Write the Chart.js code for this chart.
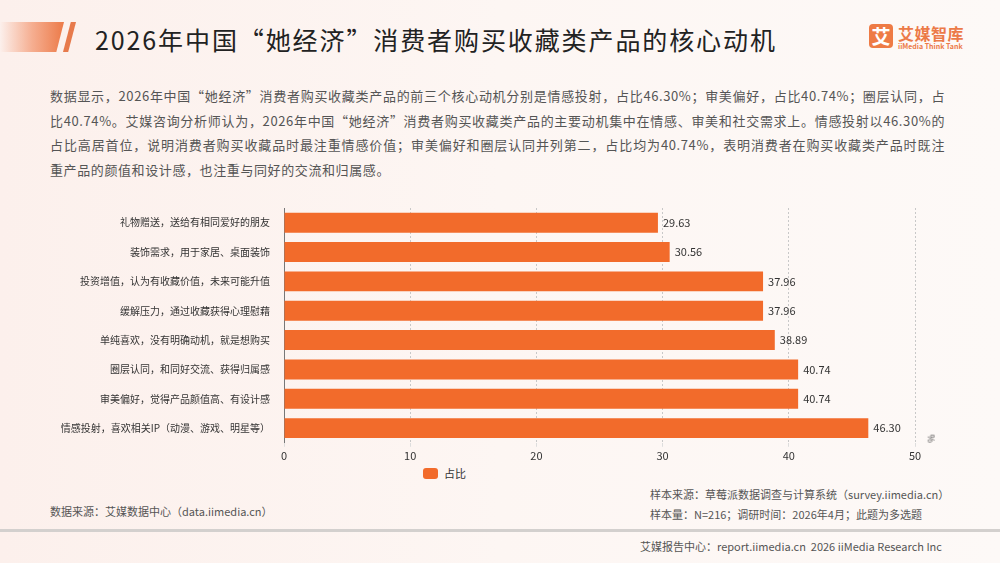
<!DOCTYPE html>
<html>
<head>
<meta charset="utf-8">
<script src="https://cdn.jsdelivr.net/npm/chart.js@4/dist/chart.umd.min.js"></script>
<style>
  html, body { margin: 0; padding: 0; }
  body {
    width: 1000px; height: 563px; position: relative; overflow: hidden;
    background: linear-gradient(90deg, #fcf0ec 0%, #fdf6f3 50%, #fdf9f7 100%);
    font-family: "Noto Sans CJK SC", "Noto Sans", sans-serif;
  }
  .decor1 {
    position: absolute; left: 0; top: 22px; width: 64px; height: 30px;
    background: linear-gradient(90deg, rgba(240,120,70,0) 0%, rgba(240,120,70,0.55) 50%, #ec7a48 100%);
    clip-path: polygon(0 0, 100% 0, 88% 100%, 0 100%);
  }
  .decor2 {
    position: absolute; left: 63px; top: 22px; width: 13px; height: 30px;
    background: #e77a4c;
    clip-path: polygon(60% 0, 100% 0, 40% 100%, 0 100%);
  }
  .title {
    position: absolute; left: 95px; top: 21px; font-size: 25px; color: #222;
    letter-spacing: 1.9px; white-space: nowrap;
  }
  .logo-box {
    position: absolute; left: 869px; top: 24px; width: 24px; height: 24px;
    background: #ee7b45; border-radius: 4px; color: #fff; font-size: 19px;
    font-weight: bold; line-height: 24px; text-align: center;
  }
  .logo-cn {
    position: absolute; left: 898px; top: 21px; font-size: 16px; font-weight: bold;
    color: #ec7a48; letter-spacing: 0.5px;
  }
  .logo-en {
    position: absolute; left: 898px; top: 41px; font-size: 7px; font-weight: bold;
    color: #ec7a48; white-space: nowrap;
  }
  .para { position: absolute; left: 50px; top: 84px; width: 895px; color: #555; font-size: 13px; }
  .para div { height: 24.7px; line-height: 24.7px; letter-spacing: 0.6px; text-align: justify; text-align-last: justify; white-space: nowrap; }
  .para div.last { text-align-last: left; }
  #chartWrap { position: absolute; left: 40px; top: 196px; width: 910px; height: 268px; }
  .legend { position: absolute; left: 423px; top: 465px; font-size: 11px; color: #333; }
  .legend span.box { display: inline-block; width: 15px; height: 11px; background: #f26b2b; border-radius: 3px; vertical-align: -1px; margin-right: 6px; }
  .pct { position: absolute; left: 927px; top: 432px; font-size: 9px; color: #444; transform: rotate(-90deg); }
  .src { position: absolute; font-size: 11px; color: #555; white-space: nowrap; }
  .rule { position: absolute; left: 0; top: 529px; width: 1000px; height: 3px; background: #d3d0ce; }
</style>
</head>
<body>
<div class="decor1"></div>
<div class="decor2"></div>
<div class="title">2026年中国“她经济”消费者购买收藏类产品的核心动机</div>
<div class="logo-box">艾</div>
<div class="logo-cn">艾媒智库</div>
<div class="logo-en">iiMedia Think Tank</div>

<div class="para">
  <div>数据显示，2026年中国“她经济”消费者购买收藏类产品的前三个核心动机分别是情感投射，占比46.30%；审美偏好，占比40.74%；圈层认同，占</div>
  <div>比40.74%。艾媒咨询分析师认为，2026年中国“她经济”消费者购买收藏类产品的主要动机集中在情感、审美和社交需求上。情感投射以46.30%的</div>
  <div>占比高居首位，说明消费者购买收藏品时最注重情感价值；审美偏好和圈层认同并列第二，占比均为40.74%，表明消费者在购买收藏类产品时既注</div>
  <div class="last">重产品的颜值和设计感，也注重与同好的交流和归属感。</div>
</div>

<div id="chartWrap"><canvas id="motiveChart"></canvas></div>
<div class="legend"><span class="box"></span>占比</div>
<div class="pct">%</div>

<div class="src" style="left:50px; top:503px;">数据来源：艾媒数据中心（data.iimedia.cn）</div>
<div class="src" style="left:650px; top:486px;">样本来源：草莓派数据调查与计算系统（survey.iimedia.cn）</div>
<div class="src" style="left:650px; top:506px;">样本量：N=216；调研时间：2026年4月；此题为多选题</div>
<div class="rule"></div>
<div class="src" style="left:640px; top:538px;">艾媒报告中心：report.iimedia.cn&nbsp;&nbsp;2026 iiMedia Research Inc</div>

<script>
// Categories, top to bottom as shown
const motiveLabels = [
    '礼物赠送，送给有相同爱好的朋友',
    '装饰需求，用于家居、桌面装饰',
    '投资增值，认为有收藏价值，未来可能升值',
    '缓解压力，通过收藏获得心理慰藉',
    '单纯喜欢，没有明确动机，就是想购买',
    '圈层认同，和同好交流、获得归属感',
    '审美偏好，觉得产品颜值高、有设计感',
    '情感投射，喜欢相关IP（动漫、游戏、明星等）'
];
// Share of respondents (%)
const motiveShare = [29.63, 30.56, 37.96, 37.96, 38.89, 40.74, 40.74, 46.30];
// X axis ticks
const xTicks = [0, 10, 20, 30, 40, 50];

// Draws the value next to each bar end
const valueLabelPlugin = {
    id: 'valueLabels',
    afterDatasetsDraw(chart) {
        const ctx = chart.ctx;
        const meta = chart.getDatasetMeta(0);
        ctx.save();
        ctx.font = '11px "Noto Sans CJK SC", sans-serif';
        ctx.fillStyle = '#333';
        ctx.textBaseline = 'middle';
        ctx.textAlign = 'left';
        meta.data.forEach((bar, i) => {
            ctx.fillText(motiveShare[i].toFixed(2), bar.x + 5, bar.y);
        });
        ctx.restore();
    }
};

const ctx = document.getElementById('motiveChart').getContext('2d');
new Chart(ctx, {
    type: 'bar',
    data: {
        labels: motiveLabels,
        datasets: [{
            label: '占比',
            data: motiveShare,
            backgroundColor: '#f26b2b',
            borderWidth: 0,
            barPercentage: 0.68,
            categoryPercentage: 1.0
        }]
    },
    options: {
        indexAxis: 'y',
        responsive: true,
        maintainAspectRatio: false,
        animation: false,
        layout: { padding: { top: 4, right: 35, left: 0, bottom: 0 } },
        scales: {
            x: {
                min: 0,
                max: 50,
                afterBuildTicks(axis) {
                    axis.ticks = xTicks.map(v => ({ value: v }));
                },
                grid: {
                    color: '#c8c8c8',
                    lineWidth: 1,
                    drawTicks: true,
                    tickLength: 4,
                    tickColor: '#ddd'
                },
                border: { display: true, color: 'rgba(0,0,0,0)', dash: [2, 2] },
                ticks: {
                    color: '#333',
                    font: { size: 11, family: '"Noto Sans CJK SC", sans-serif' },
                    padding: 2
                }
            },
            y: {
                afterFit(axis) { axis.width = 244; },
                grid: { display: false },
                border: { display: true, color: '#777', width: 1 },
                ticks: {
                    color: '#333',
                    font: { size: 10, family: '"Noto Sans CJK SC", sans-serif' },
                    padding: 6
                }
            }
        },
        plugins: {
            legend: { display: false },
            tooltip: { enabled: false }
        }
    },
    plugins: [valueLabelPlugin]
});
</script>
</body>
</html>
